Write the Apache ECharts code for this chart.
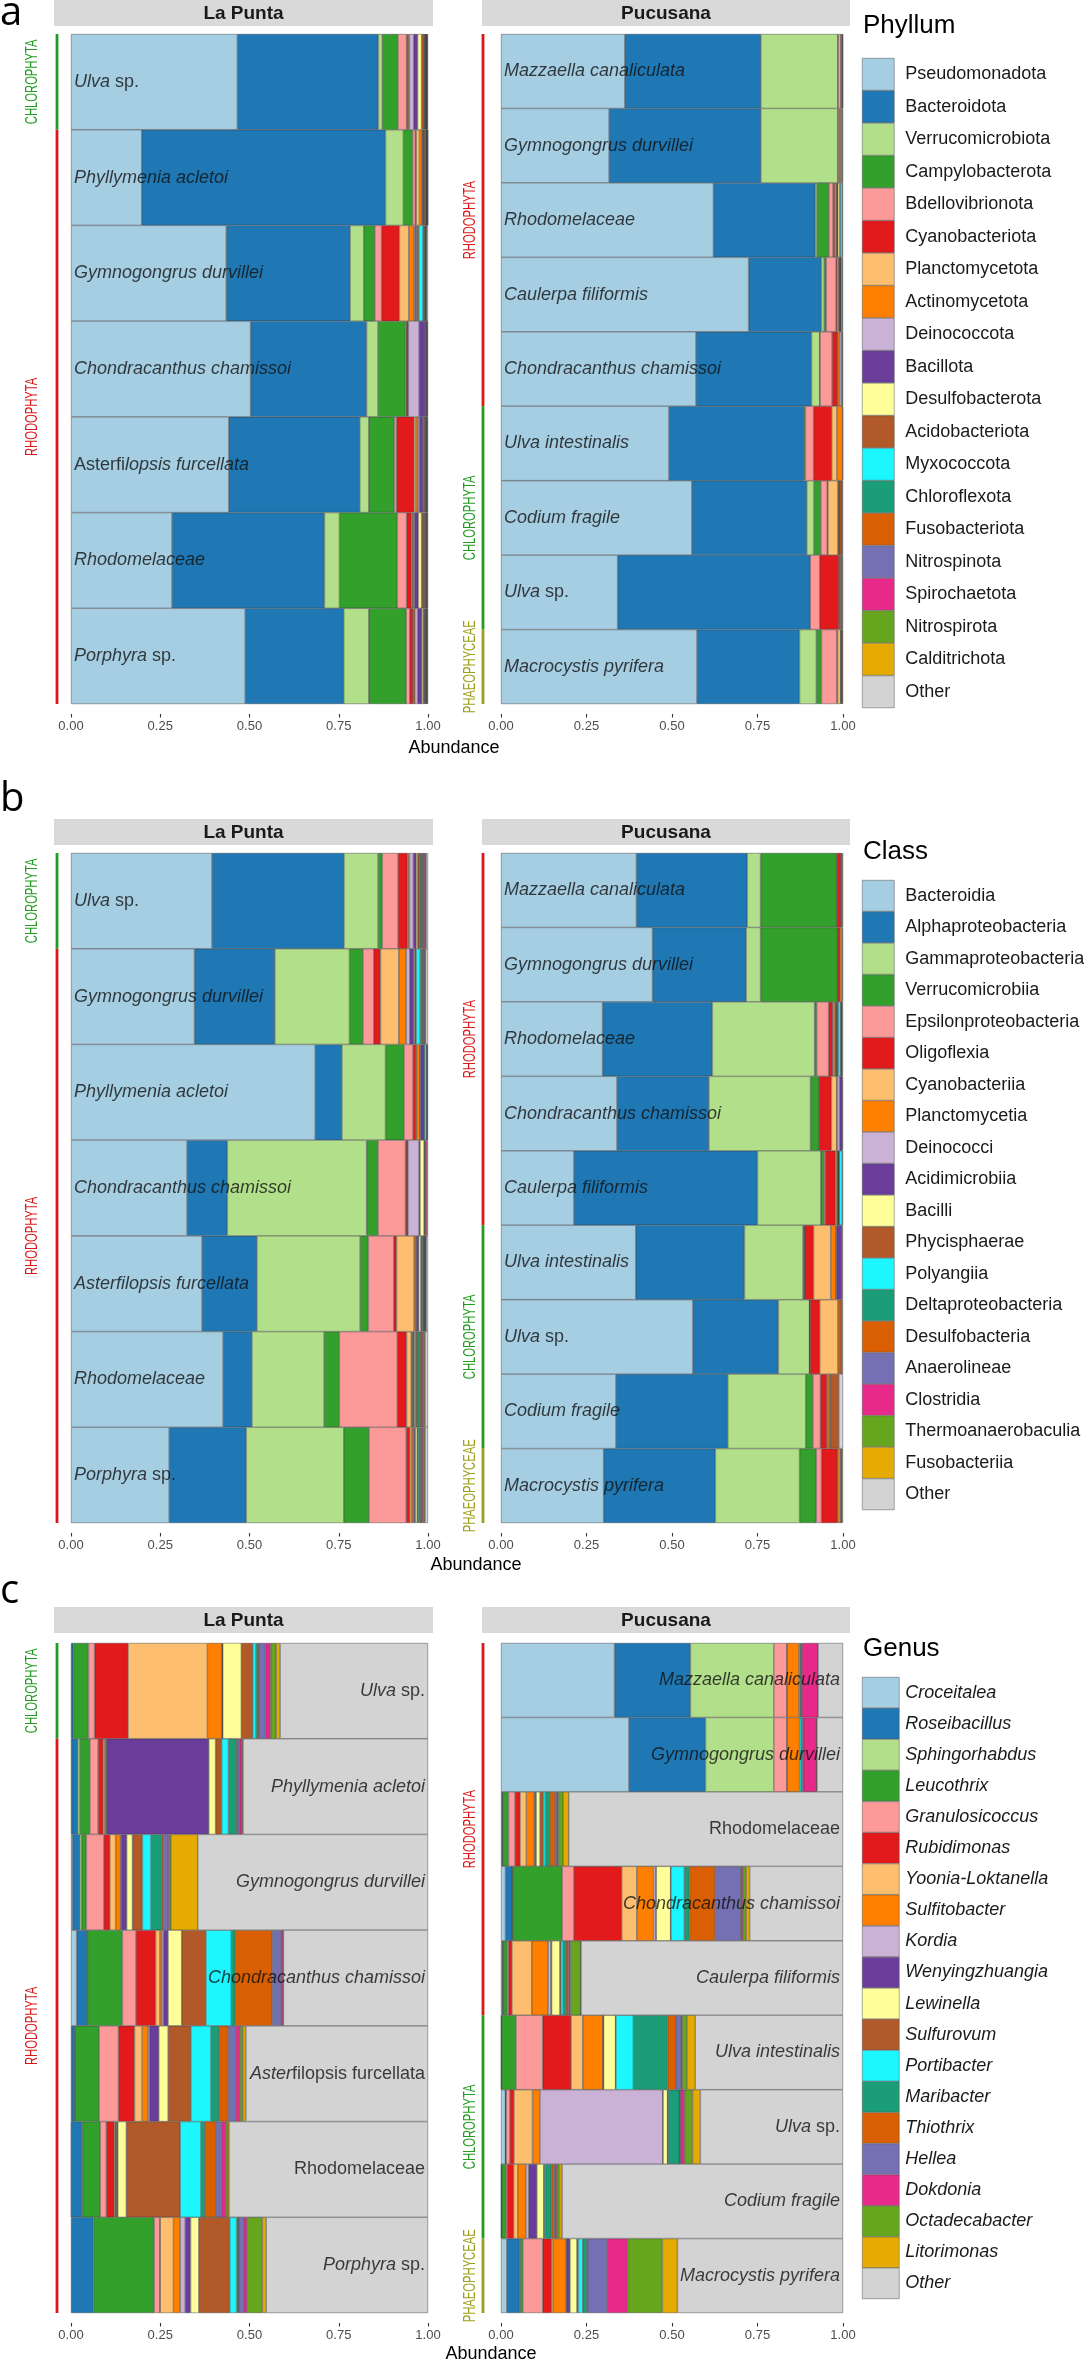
<!DOCTYPE html>
<html><head><meta charset="utf-8">
<script src="https://cdn.jsdelivr.net/npm/echarts/dist/echarts.min.js"></script>
<style>html,body{margin:0;padding:0;background:#fff}#c{width:1084px;height:2360px}</style>
</head><body><div id="c"></div>
<script>
// ---------- taxa (legend order) ----------
const phylumNames = ['Pseudomonadota','Bacteroidota','Verrucomicrobiota','Campylobacterota','Bdellovibrionota','Cyanobacteriota','Planctomycetota','Actinomycetota','Deinococcota','Bacillota','Desulfobacterota','Acidobacteriota','Myxococcota','Chloroflexota','Fusobacteriota','Nitrospinota','Spirochaetota','Nitrospirota','Calditrichota','Other'];
const classNames = ['Bacteroidia','Alphaproteobacteria','Gammaproteobacteria','Verrucomicrobiia','Epsilonproteobacteria','Oligoflexia','Cyanobacteriia','Planctomycetia','Deinococci','Acidimicrobiia','Bacilli','Phycisphaerae','Polyangiia','Deltaproteobacteria','Desulfobacteria','Anaerolineae','Clostridia','Thermoanaerobaculia','Fusobacteriia','Other'];
const genusNames = ['Croceitalea','Roseibacillus','Sphingorhabdus','Leucothrix','Granulosicoccus','Rubidimonas','Yoonia-Loktanella','Sulfitobacter','Kordia','Wenyingzhuangia','Lewinella','Sulfurovum','Portibacter','Maribacter','Thiothrix','Hellea','Dokdonia','Octadecabacter','Litorimonas','Other'];
const rankTitles = ['Phyllum','Class','Genus'];
const sites = ['La Punta','Pucusana'];

// ---------- hosts (bar categories, top to bottom) ----------
const laPuntaHostsAC = ['Ulva sp.','Phyllymenia acletoi','Gymnogongrus durvillei','Chondracanthus chamissoi','Asterfilopsis furcellata','Rhodomelaceae','Porphyra sp.'];
const laPuntaHostsB = ['Ulva sp.','Gymnogongrus durvillei','Phyllymenia acletoi','Chondracanthus chamissoi','Asterfilopsis furcellata','Rhodomelaceae','Porphyra sp.'];
const pucusanaHostsA = ['Mazzaella canaliculata','Gymnogongrus durvillei','Rhodomelaceae','Caulerpa filiformis','Chondracanthus chamissoi','Ulva intestinalis','Codium fragile','Ulva sp.','Macrocystis pyrifera'];
const pucusanaHostsBC = ['Mazzaella canaliculata','Gymnogongrus durvillei','Rhodomelaceae','Chondracanthus chamissoi','Caulerpa filiformis','Ulva intestinalis','Ulva sp.','Codium fragile','Macrocystis pyrifera'];

// host label text ({i|...} = italic)
const laPuntaLabelsA = ['{i|Ulva} sp.','{i|Phyllymenia acletoi}','{i|Gymnogongrus durvillei}','{i|Chondracanthus chamissoi}','Asterfi{i|lopsis furcellata}','{i|Rhodomelaceae}','{i|Porphyra} sp.'];
const laPuntaLabelsB = ['{i|Ulva} sp.','{i|Gymnogongrus durvillei}','{i|Phyllymenia acletoi}','{i|Chondracanthus chamissoi}','{i|Asterfilopsis furcellata}','{i|Rhodomelaceae}','{i|Porphyra} sp.'];
const laPuntaLabelsC = ['{i|Ulva} sp.','{i|Phyllymenia acletoi}','{i|Gymnogongrus durvillei}','{i|Chondracanthus chamissoi}','{i|Aster}filopsis furcellata','Rhodomelaceae','{i|Porphyra} sp.'];
const pucusanaLabelsA = ['{i|Mazzaella canaliculata}','{i|Gymnogongrus durvillei}','{i|Rhodomelaceae}','{i|Caulerpa filiformis}','{i|Chondracanthus chamissoi}','{i|Ulva intestinalis}','{i|Codium fragile}','{i|Ulva} sp.','{i|Macrocystis pyrifera}'];
const pucusanaLabelsB = ['{i|Mazzaella canaliculata}','{i|Gymnogongrus durvillei}','{i|Rhodomelaceae}','{i|Chondracanthus chamissoi}','{i|Caulerpa filiformis}','{i|Ulva intestinalis}','{i|Ulva} sp.','{i|Codium fragile}','{i|Macrocystis pyrifera}'];
const pucusanaLabelsC = ['{i|Mazzaella canaliculata}','{i|Gymnogongrus durvillei}','Rhodomelaceae','{i|Chondracanthus chamissoi}','{i|Caulerpa filiformis}','{i|Ulva intestinalis}','{i|Ulva} sp.','{i|Codium fragile}','{i|Macrocystis pyrifera}'];

// host phylum groups
const laPuntaGroups = ['CHLOROPHYTA','RHODOPHYTA','RHODOPHYTA','RHODOPHYTA','RHODOPHYTA','RHODOPHYTA','RHODOPHYTA'];
const pucusanaGroups = ['RHODOPHYTA','RHODOPHYTA','RHODOPHYTA','RHODOPHYTA','RHODOPHYTA','CHLOROPHYTA','CHLOROPHYTA','CHLOROPHYTA','PHAEOPHYCEAE'];

// ---------- relative abundances (rows = hosts, columns = taxa) ----------
const phylumLaPunta = [
 [0.466,0.395,0.011,0.044,0.024,0.003,0.002,0.003,0.012,0.011,0.011,0.008,0.001,0.002,0.001,0.001,0.001,0.001,0.001,0.002],
 [0.198,0.683,0.050,0.026,0.008,0.002,0.009,0.007,0.002,0.002,0.001,0.003,0.003,0.001,0.001,0.001,0.001,0,0.001,0.002],
 [0.435,0.347,0.038,0.031,0.019,0.050,0.026,0.014,0.004,0.004,0.002,0.004,0.012,0.003,0.002,0.002,0.001,0.001,0.001,0.004],
 [0.503,0.325,0.032,0.077,0.003,0.002,0.001,0.002,0.030,0.017,0,0.003,0,0.001,0.001,0,0.001,0,0,0.002],
 [0.442,0.367,0.025,0.072,0.006,0.049,0.005,0.006,0.004,0.010,0.002,0.003,0.002,0.002,0.001,0.001,0.001,0,0,0.002],
 [0.283,0.427,0.042,0.162,0.026,0.014,0.003,0.002,0.003,0.011,0.009,0.004,0.002,0.002,0.002,0.002,0.002,0.001,0.001,0.002],
 [0.488,0.276,0.070,0.105,0.010,0.009,0.002,0.003,0.008,0.012,0.004,0.003,0.001,0.004,0.001,0.001,0.001,0,0,0.002]
];
const phylumPucusana = [
 [0.362,0.398,0.225,0.001,0.008,0.001,0.003,0.001,0,0,0,0,0,0,0,0,0,0,0,0.001],
 [0.316,0.444,0.225,0.001,0.005,0.001,0.004,0.002,0,0,0,0,0,0,0,0,0,0,0,0.002],
 [0.621,0.298,0.005,0.035,0.012,0.005,0.004,0.003,0.001,0.001,0.006,0.001,0.006,0,0,0,0,0,0,0.002],
 [0.724,0.213,0.008,0.006,0.029,0.003,0.004,0.002,0.002,0.001,0.001,0.001,0.004,0,0,0,0,0,0,0.002],
 [0.570,0.338,0.024,0.001,0.035,0.015,0.002,0.006,0.006,0.001,0,0,0,0,0,0,0,0,0,0.002],
 [0.491,0.394,0.002,0.003,0.024,0.053,0.015,0.017,0,0,0,0,0,0,0,0,0,0,0,0.001],
 [0.558,0.336,0.021,0.020,0.019,0.002,0.029,0.003,0.001,0.001,0,0.008,0,0,0,0,0,0,0,0.002],
 [0.341,0.562,0,0.001,0.028,0.056,0.002,0.002,0,0,0,0.006,0,0,0,0,0,0,0,0.002],
 [0.573,0.300,0.049,0.015,0.045,0.002,0.009,0.001,0,0.003,0,0,0,0,0,0.001,0,0,0,0.002]
];
const classLaPunta = [
 [0.395,0.370,0.095,0.012,0.044,0.026,0.003,0.003,0.011,0.008,0.004,0.005,0.002,0.003,0.002,0.002,0.006,0.002,0.002,0.005],
 [0.346,0.225,0.209,0.038,0.030,0.019,0.051,0.021,0.010,0.011,0.003,0.004,0.011,0.005,0.002,0.002,0.003,0.002,0.001,0.007],
 [0.684,0.075,0.122,0.052,0.025,0.008,0.002,0.009,0.002,0.009,0.001,0.001,0.006,0.001,0,0.001,0,0,0,0.002],
 [0.325,0.113,0.390,0.032,0.077,0.004,0.001,0.002,0.031,0.003,0.011,0.002,0,0.001,0,0,0.005,0,0,0.003],
 [0.367,0.154,0.289,0.023,0.071,0.008,0.049,0.004,0.002,0.007,0.006,0.003,0.002,0.003,0.001,0.002,0.001,0.002,0.001,0.005],
 [0.426,0.081,0.202,0.043,0.162,0.026,0.013,0.003,0.002,0.004,0.003,0.004,0.002,0.006,0.003,0.003,0.003,0.004,0.002,0.008],
 [0.275,0.216,0.273,0.071,0.104,0.010,0.005,0.004,0.003,0.004,0.005,0.002,0.003,0.004,0.002,0.003,0.003,0.003,0.002,0.008]
];
const classPucusana = [
 [0.396,0.324,0.039,0.223,0.001,0.011,0.001,0.003,0,0,0,0,0,0,0,0,0,0,0,0.002],
 [0.443,0.274,0.042,0.225,0.001,0.005,0.001,0.007,0,0,0,0,0,0,0,0,0,0,0,0.002],
 [0.297,0.321,0.299,0.006,0.035,0.012,0.004,0.005,0.001,0.002,0.002,0.002,0.007,0.002,0.001,0.001,0,0,0,0.003],
 [0.339,0.269,0.297,0.025,0.001,0.035,0.016,0.001,0.007,0.008,0,0,0,0,0,0,0,0,0,0.002],
 [0.213,0.537,0.185,0.009,0.004,0.030,0.003,0.004,0.001,0.001,0.001,0.001,0.009,0,0,0,0,0,0,0.002],
 [0.394,0.318,0.171,0.004,0.001,0.026,0.050,0.015,0.002,0.016,0,0,0,0,0,0,0,0,0,0.003],
 [0.561,0.250,0.091,0.001,0.001,0.028,0.053,0.004,0,0,0,0.008,0,0,0,0,0,0,0,0.003],
 [0.336,0.327,0.228,0.021,0.022,0.019,0.003,0.006,0,0.001,0,0.025,0,0,0,0,0,0,0,0.012],
 [0.300,0.327,0.246,0.049,0.015,0.046,0.002,0.008,0,0.002,0,0.002,0,0,0,0,0,0,0,0.003]
];
const genusLaPunta = [
 [0.002,0.005,0,0.042,0.017,0.094,0.222,0.041,0.001,0.001,0.052,0.032,0.009,0.006,0.002,0.019,0.014,0.016,0.011,0.414],
 [0.002,0.017,0.006,0.028,0.023,0.014,0.004,0.004,0.002,0.286,0.019,0.017,0.019,0.023,0.002,0.005,0.006,0.003,0.002,0.518],
 [0.004,0.021,0.005,0.013,0.049,0.017,0.016,0.014,0.002,0.015,0.016,0.028,0.024,0.030,0.004,0.015,0.003,0.004,0.075,0.645],
 [0.016,0.029,0.001,0.098,0.038,0.055,0.012,0.005,0.005,0.013,0.038,0.068,0.071,0.011,0.104,0.024,0.006,0.001,0,0.405],
 [0.002,0.009,0.001,0.067,0.054,0.045,0.021,0.017,0.004,0.026,0.026,0.064,0.056,0.023,0.026,0.021,0.011,0.008,0.009,0.510],
 [0.001,0.029,0.002,0.050,0.017,0.022,0.003,0.002,0.002,0.003,0.024,0.151,0.058,0.011,0.031,0.016,0.012,0.005,0.004,0.557],
 [0,0.063,0,0.170,0.016,0.001,0.037,0.019,0.014,0.015,0.023,0.087,0.019,0.006,0.001,0.013,0.009,0.043,0.011,0.453]
];
const genusPucusana = [
 [0.332,0.222,0.244,0,0.038,0,0.001,0.034,0,0,0,0,0.004,0.003,0,0.002,0.046,0,0.001,0.073],
 [0.374,0.224,0.200,0,0.038,0,0.001,0.036,0,0,0,0,0.005,0.004,0,0.003,0.038,0,0.001,0.076],
 [0.003,0.002,0.001,0.016,0.019,0.015,0.018,0.023,0.003,0.003,0.011,0.010,0.006,0.013,0.015,0.005,0.005,0.014,0.016,0.802],
 [0.013,0.020,0.001,0.145,0.034,0.140,0.044,0.049,0.007,0.001,0.042,0.001,0.039,0.015,0.075,0.075,0.006,0.010,0.010,0.273],
 [0.004,0.002,0.001,0.011,0.004,0.010,0.058,0.048,0.008,0.002,0.024,0.003,0.007,0.007,0.004,0.004,0.006,0.030,0.001,0.766],
 [0.001,0.001,0,0.042,0.078,0.083,0.034,0.059,0.001,0.001,0.035,0.001,0.051,0.100,0.024,0.015,0.004,0.014,0.024,0.432],
 [0.013,0.001,0,0.001,0.011,0.012,0.054,0.022,0.359,0.001,0.013,0.001,0.003,0.031,0.001,0.002,0.012,0.023,0.023,0.417],
 [0.001,0.001,0,0.012,0.004,0.019,0.012,0.024,0.008,0.024,0.020,0.002,0.003,0.017,0.006,0.004,0.006,0.008,0.008,0.821],
 [0.017,0.037,0.002,0.008,0.058,0.026,0.005,0.037,0.002,0.010,0.020,0.004,0.013,0.012,0.003,0.056,0.060,0.102,0.044,0.484]
];

// ---------- styling / layout ----------
const palette = ['#A6CEE3','#1F78B4','#B2DF8A','#33A02C','#FB9A99','#E31A1C','#FDBF6F','#FF7F00','#CAB2D6','#6A3D9A','#FFFF99','#B15928','#1CF7FF','#1B9E77','#D95F02','#7570B3','#E7298A','#66A61E','#E6AB02','#D3D3D3'];
const groupColors = {CHLOROPHYTA:'#239B23', RHODOPHYTA:'#D91919', PHAEOPHYCEAE:'#9E9E1E'};
const FONT = "'Liberation Sans', Arial, Helvetica, sans-serif";
const panelTop = [34, 853, 1643];
const plotH = 670;
const stripTop = [0, 819, 1607];
const stripH = 26;
const sideLeft = [71, 501];
const sideWidth = [357, 342];
const stripX = [[54, 433], [482, 850]];
const bracketOff = [-14, -18];
const groupLabelOff = [-39, -31];
const abundanceX = [454, 476, 491];
const abundanceY = [748, 1565, 2354];
const legendTop = [58, 880, 1677];
const legendRowH = [32, 31.0, 30.6];
const legendTitleY = [26, 852, 1649];
const letterY = [14, 800, 1592];

const facets = [
 {panel:0, side:0, hosts:laPuntaHostsAC, labels:laPuntaLabelsA, groups:laPuntaGroups, values:phylumLaPunta, names:phylumNames, labelAt:0},
 {panel:0, side:1, hosts:pucusanaHostsA, labels:pucusanaLabelsA, groups:pucusanaGroups, values:phylumPucusana, names:phylumNames, labelAt:0},
 {panel:1, side:0, hosts:laPuntaHostsB, labels:laPuntaLabelsB, groups:laPuntaGroups, values:classLaPunta, names:classNames, labelAt:0},
 {panel:1, side:1, hosts:pucusanaHostsBC, labels:pucusanaLabelsB, groups:pucusanaGroups, values:classPucusana, names:classNames, labelAt:0},
 {panel:2, side:0, hosts:laPuntaHostsAC, labels:laPuntaLabelsC, groups:laPuntaGroups, values:genusLaPunta, names:genusNames, labelAt:1},
 {panel:2, side:1, hosts:pucusanaHostsBC, labels:pucusanaLabelsC, groups:pucusanaGroups, values:genusPucusana, names:genusNames, labelAt:1}
];
const rankNames = [phylumNames, classNames, genusNames];

const chart = echarts.init(document.getElementById('c'), null, {renderer:'canvas'});
const grids = [], xAxes = [], yAxes = [], series = [];
facets.forEach((f, gi) => {
  grids.push({left: sideLeft[f.side], top: panelTop[f.panel], width: sideWidth[f.side], height: plotH, containLabel:false, outerBoundsMode:'none'});
  xAxes.push({gridIndex:gi, type:'value', min:0, max:1, interval:0.25, offset:10,
    axisLine:{show:false}, splitLine:{show:false},
    axisTick:{show:true, length:3.5, lineStyle:{color:'#333', width:1.1}},
    axisLabel:{margin:6, fontSize:13, color:'#4d4d4d', fontFamily:FONT, showMinLabel:true, showMaxLabel:true, formatter:v => v.toFixed(2)}});
  yAxes.push({gridIndex:gi, type:'category', data:f.hosts, inverse:true,
    axisLine:{show:false}, axisTick:{show:false}, axisLabel:{show:false}, splitLine:{show:false}});
  f.names.forEach((nm, k) => {
    series.push({type:'bar', name:nm, xAxisIndex:gi, yAxisIndex:gi, stack:'s'+gi, barCategoryGap:'0%',
      data: f.values.map(row => row[k] === 0 ? '-' : row[k]),
      itemStyle:{color:palette[k], borderColor:'rgba(55,55,55,0.85)', borderWidth:0.5},
      silent:true, animation:false});
  });
  series.push({type:'scatter', name:'hostLabels'+gi, xAxisIndex:gi, yAxisIndex:gi, symbolSize:0, silent:true, z:10, animation:false,
    data: f.hosts.map((h, i) => ({value:[f.labelAt, h], label:{formatter:f.labels[i]}})),
    label:{show:true, position: f.labelAt === 0 ? 'right' : 'left', distance:3, fontSize:18, color:'#111', fontFamily:FONT, fontStyle:'normal',
      rich:{i:{fontStyle:'italic', fontSize:18, color:'#111', fontFamily:FONT}}}});
});

const legends = [0,1,2].map(p => ({
  data: rankNames[p], orient:'vertical', left:862, top:legendTop[p], padding:0, itemGap:0,
  itemWidth: p === 2 ? 37 : 32, itemHeight: legendRowH[p], icon:'rect', selectedMode:false,
  itemStyle:{borderColor:'#555', borderWidth:0.5},
  textStyle:{fontSize:18, color:'#1a1a1a', fontFamily:FONT, fontStyle: p === 2 ? 'italic' : 'normal', padding:[0,0,0, p === 2 ? 1 : 6]}
}));

chart.setOption({animation:false, backgroundColor:'#fff', grid:grids, xAxis:xAxes, yAxis:yAxes, series:series, legend:legends});

// ---------- annotations ----------
const gfx = [];
['a','b','c'].forEach((L, p) => {
  gfx.push({type:'text', x:0, y:letterY[p], silent:true, style:{text:L, font:"40px 'Open Sans', " + FONT, fill:'#000', align:'left', verticalAlign:'middle'}});
  [0,1].forEach(s => {
    gfx.push({type:'rect', silent:true, shape:{x:stripX[s][0], y:stripTop[p], width:stripX[s][1]-stripX[s][0], height:stripH}, style:{fill:'#D9D9D9'}});
    gfx.push({type:'text', silent:true, x:(stripX[s][0]+stripX[s][1])/2, y:stripTop[p]+stripH/2+0.5,
      style:{text:sites[s], font:"bold 19px " + FONT, fill:'#1a1a1a', align:'center', verticalAlign:'middle'}});
  });
  gfx.push({type:'text', silent:true, x:863, y:legendTitleY[p], style:{text:rankTitles[p], font:"26px " + FONT, fill:'#000', align:'left', verticalAlign:'middle'}});
  gfx.push({type:'text', silent:true, x:abundanceX[p], y:abundanceY[p], style:{text:'Abundance', font:"18px " + FONT, fill:'#000', align:'center', verticalAlign:'middle'}});
});
facets.forEach((f, gi) => {
  const yc = f.hosts.map(h => chart.convertToPixel({gridIndex:gi}, [0, h])[1]);
  const band = plotH / f.hosts.length;
  const lineX = sideLeft[f.side] + bracketOff[f.side];
  const labX = sideLeft[f.side] + groupLabelOff[f.side];
  let start = 0;
  for (let i = 1; i <= f.hosts.length; i++) {
    if (i === f.hosts.length || f.groups[i] !== f.groups[start]) {
      const g = f.groups[start];
      const y0 = yc[start] - band/2, y1 = yc[i-1] + band/2;
      gfx.push({type:'line', silent:true, shape:{x1:lineX, y1:y0, x2:lineX, y2:y1}, style:{stroke:groupColors[g], lineWidth:2.8}});
      gfx.push({type:'text', silent:true, x:labX, y:(y0+y1)/2, rotation:Math.PI/2, scaleX:0.66,
        style:{text:g, font:"17px " + FONT, fill:groupColors[g], align:'center', verticalAlign:'middle'}});
      start = i;
    }
  }
});
chart.setOption({graphic: gfx});
</script></body></html>
